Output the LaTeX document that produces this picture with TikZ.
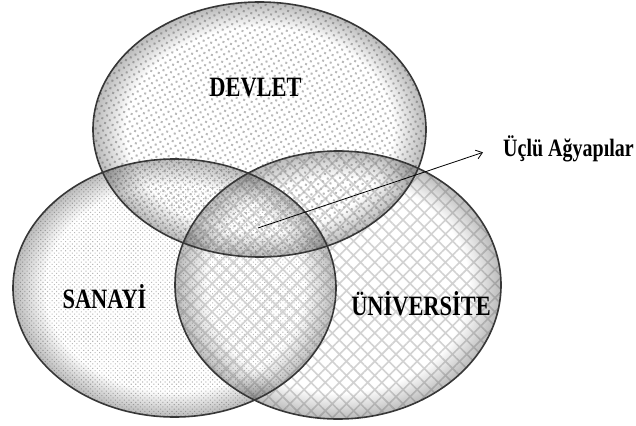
\documentclass[tikz,border=0pt]{standalone}
\usepackage{fontspec}
\setmainfont{Liberation Serif}
\usepackage{tikz}
\usetikzlibrary{arrows.meta,patterns.meta,fadings}
\pgfdeclareradialshading{rimmask}{\pgfpointorigin}{color(0bp)=(black); color(20bp)=(black); color(25bp)=(white); color(50bp)=(white)}
\pgfdeclarefading{rimfade}{\pgfuseshading{rimmask}}
\definecolor{rimgray}{RGB}{55,55,55}
\tikzset{
  setlabel/.style={font=\fontsize{28}{28}\selectfont\bfseries, anchor=base, inner sep=0pt},
  rim/.style={fill=rimgray, path fading=rimfade, fill opacity=0.35},
  outline/.style={draw=rimgray, line width=1.6pt},
  pointer/.style={-{Straight Barb[length=6pt,width=9pt]}, line width=0.8pt}
}
\newcommand{\narrowtext}[1]{\scalebox{0.8}[1]{#1}}

\begin{document}
\begin{tikzpicture}[x=1pt, y=-1pt]
  \useasboundingbox (0,0) rectangle (636,425);
  \fill[white] (0,0) rectangle (636,425);
  \fill[pattern={Dots[radius=0.75pt, distance=3.2pt, angle=45]}, pattern color=gray!55] (174.5,288) ellipse [x radius=161.5pt, y radius=129pt];
  \fill[pattern={Hatch[angle=45, distance=10pt, line width=1.6pt]}, pattern color=gray!35] (338,285) ellipse [x radius=163pt, y radius=134pt];
  \fill[pattern={Dots[radius=1.4pt, distance=5.5pt, angle=30]}, pattern color=gray!55] (259.5,129.5) ellipse [x radius=166.5pt, y radius=127.5pt];
  \fill[rim] (174.5,288) ellipse [x radius=161.5pt, y radius=129pt];
  \fill[rim] (338,285) ellipse [x radius=163pt, y radius=134pt];
  \fill[rim] (259.5,129.5) ellipse [x radius=166.5pt, y radius=127.5pt];
  \draw[outline] (174.5,288) ellipse [x radius=161.5pt, y radius=129pt];
  \draw[outline] (338,285) ellipse [x radius=163pt, y radius=134pt];
  \draw[outline] (259.5,129.5) ellipse [x radius=166.5pt, y radius=127.5pt];
  \node[setlabel] (devlet) at (255.5,97) {\narrowtext{DEVLET}};
  \node[setlabel] (sanayi) at (104.5,308) {\narrowtext{SANAYİ}};
  \node[setlabel] (universite) at (421,315) {\narrowtext{ÜNİVERSİTE}};
  \node[setlabel, font=\fontsize{25}{25}\selectfont\bfseries, anchor=base west, inner xsep=20pt] (ucl) at (483,156) {\narrowtext{Üçlü Ağyapılar}};
  \coordinate (triple) at (258,228);
  \draw[pointer] (triple) -- ([yshift=-4pt]ucl.west);
\end{tikzpicture}
\end{document}
